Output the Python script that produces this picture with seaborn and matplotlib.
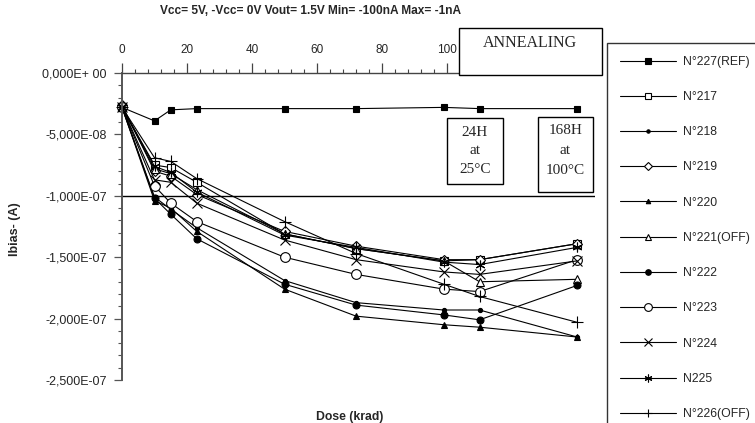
import matplotlib
matplotlib.use("Agg")
import matplotlib.pyplot as plt
import seaborn as sns
import pandas as pd
from matplotlib.patches import Rectangle
from matplotlib.ticker import FixedLocator, FixedFormatter, MultipleLocator

# ---------------- data ----------------
dose = [0, 10, 15, 23, 50, 72, 99, 110, 140]          # krad (annealing steps placed at 110/140)

ibias_nA = {
    "N°227(REF)": [-28, -39, -30, -29, -29, -29, -28, -29, -29],
    "N°217":      [-28, -75, -77, -89, -131, -143, -153, -152, -139],
    "N°218":      [-28, -101, -111, -126, -169, -187, -193, -193, -215],
    "N°219":      [-26, -80, -84, -99, -129, -141, -152, -152, -139],
    "N°220":      [-28, -104, -110, -129, -176, -198, -205, -207, -215],
    "N°221(OFF)": [-28, -78, -82, -95, -131, -143, -153, -170, -168],
    "N°222":      [-28, -102, -115, -135, -172, -189, -197, -201, -173],
    "N°223":      [-28, -92, -106, -121, -150, -164, -176, -178, -152],
    "N°224":      [-28, -87, -89, -106, -136, -152, -162, -164, -153],
    "N225":       [-28, -76, -81, -97, -132, -142, -154, -156, -142],
    "N°226(OFF)": [-28, -69, -72, -86, -121, -147, -172, -182, -203],
}

ytick_values = [0, -5e-8, -1e-7, -1.5e-7, -2e-7, -2.5e-7]
ytick_labels = ["0,000E+ 00", "-5,000E-08", "-1,000E-07", "-1,500E-07", "-2,000E-07", "-2,500E-07"]
xtick_values = [0, 20, 40, 60, 80, 100]

title = "Vcc= 5V, -Vcc= 0V Vout= 1.5V Min= -100nA Max= -1nA"

# ---------------- styles ----------------
styles = {
    "N°227(REF)": dict(marker="s", ms=5, mfc="k"),
    "N°217":      dict(marker="s", ms=6, mfc="white"),
    "N°218":      dict(marker="o", ms=3, mfc="k"),
    "N°219":      dict(marker="D", ms=5, mfc="white"),
    "N°220":      dict(marker="^", ms=4, mfc="k"),
    "N°221(OFF)": dict(marker="^", ms=6, mfc="white"),
    "N°222":      dict(marker="o", ms=5, mfc="k"),
    "N°223":      dict(marker="o", ms=7, mfc="white"),
    "N°224":      dict(marker="x", ms=7, mfc="k"),
    "N225":       dict(marker=(6, 2, 0), ms=7, mfc="k"),
    "N°226(OFF)": dict(marker="+", ms=8, mfc="k"),
}

sns.set_style("white")
plt.rcParams["font.family"] = ["Liberation Sans", "DejaVu Sans"]

W, H = 755, 423
fig = plt.figure(figsize=(W / 100, H / 100), dpi=100)
ax = fig.add_axes([122 / W, 1 - 380 / H, (595 - 122) / W, (380 - 73) / H])

for name, vals in ibias_nA.items():
    df = pd.DataFrame({"dose": dose, "ibias": [v * 1e-9 for v in vals]})
    st = styles[name]
    sns.lineplot(data=df, x="dose", y="ibias", ax=ax, color="k", linewidth=0.8,
                 marker=st["marker"], markersize=st["ms"], markerfacecolor=st["mfc"],
                 markeredgecolor="k", markeredgewidth=0.8, label=name, clip_on=False)

ax.axhline(-1e-7, color="k", linewidth=1.0, zorder=1)

ax.set_xlim(0, 145.5)
ax.set_ylim(-2.5e-7, 0)
ax.set_xlabel("")
ax.set_ylabel("")

for s in ["right", "bottom"]:
    ax.spines[s].set_visible(False)
ax.spines["left"].set_color("#555555")
ax.spines["left"].set_linewidth(1.4)
ax.spines["top"].set_color("#444444")
ax.spines["top"].set_linewidth(1.0)

ax.yaxis.set_major_locator(FixedLocator(ytick_values))
ax.yaxis.set_major_formatter(FixedFormatter(ytick_labels))
ax.yaxis.set_minor_locator(MultipleLocator(1e-8))
ax.xaxis.set_major_locator(FixedLocator(xtick_values))
ax.xaxis.set_minor_locator(MultipleLocator(4))
ax.xaxis.tick_top()
ax.tick_params(axis="x", which="major", direction="out", length=7, width=0.9, pad=5,
               labelsize=8.5, color="#444444")
ax.tick_params(axis="x", which="minor", direction="out", length=3, width=0.8, color="#444444")
ax.tick_params(axis="y", which="major", direction="out", length=6, width=0.9, pad=5,
               labelsize=9, color="#555555")
ax.tick_params(axis="y", which="minor", direction="out", length=3, width=0.8, color="#555555")
ax.tick_params(left=True, top=True, which="both")

leg = ax.legend(loc="upper left", bbox_to_anchor=(607 / W, 1 - 43 / H),
                bbox_transform=fig.transFigure, frameon=True, fancybox=False,
                fontsize=8.8, labelspacing=1.9, handlelength=4.6, handletextpad=0.6,
                borderpad=1.05, borderaxespad=0, markerscale=0.8)
leg.get_frame().set_edgecolor("k")
leg.get_frame().set_linewidth(1.0)
leg.set_zorder(10)

fig.text(311 / W, 1 - 11 / H, title, ha="center", va="center", fontsize=8.6, fontweight="bold")
fig.text(15 / W, 1 - 229 / H, "Ibias- (A)", rotation=90, ha="center", va="center",
         fontsize=9, fontweight="bold")
fig.text(350 / W, 1 - 417 / H, "Dose (krad)", ha="center", va="center",
         fontsize=8.8, fontweight="bold")

serif = ["Liberation Serif", "DejaVu Serif"]

def box(x0, y0, x1, y1):
    r = Rectangle((x0 / W, 1 - y1 / H), (x1 - x0) / W, (y1 - y0) / H,
                  transform=fig.transFigure, facecolor="white", edgecolor="k",
                  linewidth=1.0, zorder=8)
    fig.add_artist(r)

box(459, 28, 602, 75)
fig.text(530 / W, 1 - 43 / H, "ANNEALING", ha="center", va="center", fontsize=11.5,
         family=serif, zorder=9)
box(447, 118, 503, 184)
for t, y in zip(["24H", "at", "25°C"], [132, 150, 169]):
    fig.text(475 / W, 1 - y / H, t, ha="center", va="center", fontsize=11, family=serif, zorder=9)
box(538, 117, 593, 192)
for t, y in zip(["168H", "at", "100°C"], [131, 150, 170]):
    fig.text(565.5 / W, 1 - y / H, t, ha="center", va="center", fontsize=11, family=serif, zorder=9)

fig.savefig("out.png", dpi=100)
